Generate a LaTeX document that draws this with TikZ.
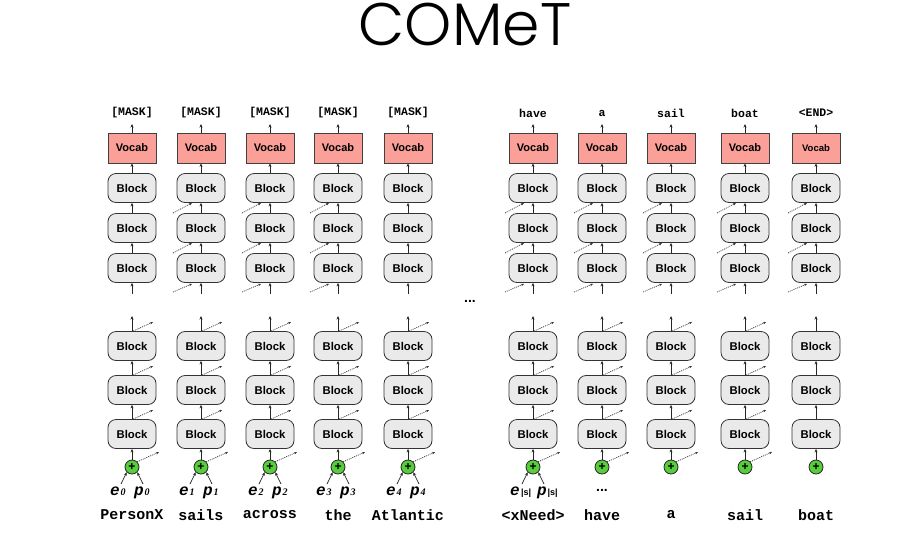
\documentclass[tikz,border=0pt]{standalone}
\usepackage{fontspec}
\setmainfont{Liberation Sans}
\newfontfamily\monof{Liberation Mono}
\newfontfamily\serf{Liberation Serif}
\newfontfamily\titlef{Poppins}[UprightFont=*-Light]
\usetikzlibrary{arrows.meta}
\definecolor{vocfill}{RGB}{250,160,152}
\definecolor{blkfill}{RGB}{234,234,234}
\definecolor{plusfill}{RGB}{88,205,60}
\begin{document}
\begin{tikzpicture}[x=1pt,y=-1pt,
 blk/.style={draw=black!80, fill=blkfill, rounded corners=8pt, minimum width=48pt, minimum height=29pt, inner sep=0pt, line width=0.8pt, font=\bfseries\fontsize{11.3}{11}\selectfont},
 voc/.style={draw=black!75, fill=vocfill, minimum width=48pt, minimum height=30pt, inner sep=0pt, line width=0.8pt, font=\bfseries\fontsize{11}{11}\selectfont},
 plusn/.style={circle, draw=black!85, fill=plusfill, minimum size=14pt, inner sep=0pt, line width=0.8pt, font=\bfseries\fontsize{12}{12}\selectfont},
 arr/.style={-{Stealth[length=3.5pt,width=3pt]}, line width=0.7pt, black!85},
 dotarr/.style={-{Stealth[length=3pt,width=2.5pt]}, dash pattern=on 1pt off 1pt, line width=0.7pt, black!80},
 toplab/.style={font=\monof\bfseries\fontsize{11.5}{12}\selectfont},
 wordlab/.style={font=\monof\bfseries\fontsize{15}{15}\selectfont},
 eplab/.style={font=\monof\bfseries\itshape\fontsize{16}{16}\selectfont, inner sep=0pt},
 subl/.style={font=\serf\bfseries\itshape\fontsize{10}{10}\selectfont, inner sep=0pt},
 dots/.style={font=\bfseries\fontsize{14}{14}\selectfont}
]
\useasboundingbox (0,0) rectangle (910,539);
\fill[white] (0,0) rectangle (910,539);
\node[font=\titlef\fontsize{60}{60}\selectfont, anchor=base] (title) at (465,45) {COMeT};

\foreach \x/\i/\lab/\din/\dout in {132/1/{[MASK]}/0/1, 201/2/{[MASK]}/1/1, 270/3/{[MASK]}/1/1, 338/4/{[MASK]}/1/1, 408/5/{[MASK]}/0/1,
 533/6/have/1/1, 602/7/a/1/1, 671/8/sail/1/1, 745/9/boat/1/1, 816/10/{<END>}/1/0}{
  % top section
  \node[toplab] (lab\i) at (\x,113) {\lab};
  \ifnum\i=10
    \node[voc, font=\bfseries\fontsize{9.5}{10}\selectfont] (voc\i) at (\x,148) {Vocab};
  \else
    \node[voc] (voc\i) at (\x,148) {Vocab};
  \fi
  \node[blk] (tba\i) at (\x,188) {Block};
  \node[blk] (tbb\i) at (\x,228) {Block};
  \node[blk] (tbc\i) at (\x,268) {Block};
  \coordinate (tin\i) at (\x,294);
  \coordinate (tout\i) at (\x,124);
  \draw[arr] (tin\i) -- (tbc\i.south);
  \draw[arr] (tbc\i.north) -- (tbb\i.south);
  \draw[arr] (tbb\i.north) -- (tba\i.south);
  \draw[arr] (tba\i.north) -- (voc\i.south);
  \draw[arr] (voc\i.north) -- (tout\i);
  \ifnum\din=1
    \coordinate (dia\i) at (\x-28,213);
    \coordinate (dib\i) at (\x-28,253);
    \coordinate (dic\i) at (\x-28,292);
    \draw[dotarr] (dia\i) -- ([xshift=-9pt]tba\i.south);
    \draw[dotarr] (dib\i) -- ([xshift=-9pt]tbb\i.south);
    \draw[dotarr] (dic\i) -- ([xshift=-9pt,yshift=-1pt]tbc\i.south);
  \fi
  % bottom section
  \node[blk] (bba\i) at (\x,346) {Block};
  \node[blk] (bbb\i) at (\x,390) {Block};
  \node[blk] (bbc\i) at (\x,434) {Block};
  \node[plusn] (pl\i) at (\x,467) {+};
  \coordinate (bout\i) at (\x,316);
  \draw[arr] (pl\i.north) -- (bbc\i.south);
  \draw[arr] (bbc\i.north) -- (bbb\i.south);
  \draw[arr] (bbb\i.north) -- (bba\i.south);
  \draw[arr] (bba\i.north) -- (bout\i);
  \ifnum\dout=1
    \coordinate (doa\i) at (\x+21,322);
    \coordinate (dob\i) at (\x+21,366);
    \coordinate (doc\i) at (\x+21,410);
    \coordinate (dop\i) at (\x+27,452);
    \draw[dotarr] ([xshift=1pt]bba\i.north) -- (doa\i);
    \draw[dotarr] ([xshift=1pt]bbb\i.north) -- (dob\i);
    \draw[dotarr] ([xshift=1pt]bbc\i.north) -- (doc\i);
    \draw[dotarr] (pl\i.north east) -- (dop\i);
  \fi
}

% bottom words
\foreach \x/\i/\w in {132/1/PersonX, 201/2/sails, 270/3/across, 338/4/the, 408/5/Atlantic, 533/6/{<xNeed>}, 602/7/have, 671/8/a, 745/9/sail, 816/10/boat}{
  \node[wordlab] (w\i) at (\x,515) {\w};
}

% embeddings
\foreach \x/\i/\s in {132/1/0, 201/2/1, 270/3/2, 338/4/3, 408/5/4}{
  \node[eplab, anchor=base] (e\i) at (\x-17,495) {e};
  \node[subl, anchor=base west] (es\i) at ([xshift=0.5pt]e\i.base east) {\s};
  \node[eplab, anchor=base] (p\i) at (\x+7,495) {p};
  \node[subl, anchor=base west] (ps\i) at ([xshift=0.5pt]p\i.base east) {\s};
  \coordinate (ea\i) at (\x-11,484);
  \coordinate (pa\i) at (\x+11,484);
  \draw[arr] (ea\i) -- (pl\i.south west);
  \draw[arr] (pa\i) -- (pl\i.south east);
}
\node[eplab, anchor=base] (e6) at (533-18,495) {e};
\node[anchor=base west, inner sep=0pt, font=\bfseries\fontsize{9}{9}\selectfont] (es6) at ([xshift=1pt]e6.base east) {|s|};
\node[eplab, anchor=base] (p6) at (533+9,495) {p};
\node[anchor=base west, inner sep=0pt, font=\bfseries\fontsize{9}{9}\selectfont] (ps6) at ([xshift=0.5pt]p6.base east) {|s|};
\coordinate (ea6) at (533-11,484);
\coordinate (pa6) at (533+11,484);
\draw[arr] (ea6) -- (pl6.south west);
\draw[arr] (pa6) -- (pl6.south east);

\node[dots] (dmid) at (470,301) {...};
\node[dots] (dhave) at (602,490) {...};
\end{tikzpicture}
\end{document}
